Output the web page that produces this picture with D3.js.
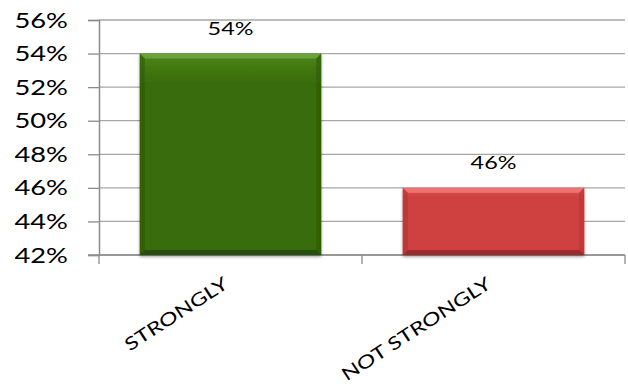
<!DOCTYPE html>
<html><head><meta charset="utf-8">
<script src="https://cdn.jsdelivr.net/npm/d3@7"></script>
<style>body{margin:0;background:#fff}svg{display:block}text{font-family:Lato,"Open Sans",sans-serif;fill:#000}</style>
</head><body>
<svg id="c" width="628" height="390"></svg>
<script>
const categories = ["STRONGLY", "NOT STRONGLY"];
const values = [0.54, 0.46];
const labels = ["54%", "46%"];
const yTicks = [0.42, 0.44, 0.46, 0.48, 0.50, 0.52, 0.54, 0.56];
const barColors = ["green", "red"];

(function () {
const svg = d3.select("#c");
const mL = 99, mR = 625, mT = 20, mB = 255;
const sx = 1.3;
const x = d3.scaleBand().domain(categories).range([mL, mR]).paddingInner(0.31).paddingOuter(0.155);
const y = d3.scaleLinear().domain([0.42, 0.56]).range([mB, mT]);

const defs = svg.append("defs");
const pal = {
  green: {main: "#386c07", light: "#6aa33a", mid: "#4c8418", dark: "#22450a", side: "#2e5a06"},
  red:   {main: "#cf3f3f", light: "#ec7372", mid: "#dc5553", dark: "#8e2525", side: "#b33434"}
};
const f = defs.append("filter").attr("id","sh").attr("x","-10%").attr("y","-10%").attr("width","120%").attr("height","130%");
f.append("feDropShadow").attr("dx",0).attr("dy",2).attr("stdDeviation",1.5).attr("flood-color","#000").attr("flood-opacity",0.35);

// gridlines
svg.append("g").selectAll("line").data(yTicks).join("line")
  .attr("x1", mL).attr("x2", mR).attr("y1", d => y(d)).attr("y2", d => y(d))
  .attr("stroke", "#a6a6a6").attr("stroke-width", 1.3);

// y axis
const yAxis = svg.append("g").attr("transform", `translate(${mL},0)`)
  .call(d3.axisLeft(y).tickValues(yTicks).tickSize(11).tickFormat(""));
yAxis.select(".domain").attr("stroke", "#8c8c8c").attr("stroke-width", 1.5);
yAxis.selectAll(".tick line").attr("stroke", "#8c8c8c").attr("stroke-width", 1.3);
svg.append("g").selectAll("text").data(yTicks).join("text")
  .attr("transform", d => `translate(68,${y(d)}) scale(${sx},1)`)
  .attr("text-anchor", "end").attr("dy", "0.36em").attr("font-size", 21)
  .text(d => Math.round(d * 100) + "%");

// x axis
const xb = svg.append("g").attr("transform", `translate(0,${mB})`);
const catBounds = [mL].concat(categories.map(c => x(c) + x.bandwidth() + x.step() * x.paddingInner() / 2));
xb.append("line").attr("x1", mL - 11).attr("x2", mR).attr("stroke", "#8c8c8c").attr("stroke-width", 1.5);
xb.selectAll("line.t").data(catBounds).join("line").attr("class","t")
  .attr("x1", d => d).attr("x2", d => d).attr("y1", 0).attr("y2", 9)
  .attr("stroke", "#8c8c8c").attr("stroke-width", 1.3);

// bars
const bars = svg.append("g").selectAll("g").data(categories).join("g").attr("filter","url(#sh)");
bars.each(function(c, i) {
  const g = d3.select(this);
  const p = pal[barColors[i]];
  const x0 = x(c), w = x.bandwidth(), y0 = y(values[i]), h = mB - y0, b = 5;
  const gid = "g" + i;
  const lg = defs.append("linearGradient").attr("id", gid).attr("x1",0).attr("y1",0).attr("x2",0).attr("y2",1);
  lg.append("stop").attr("offset", 0).attr("stop-color", p.mid);
  lg.append("stop").attr("offset", 0.15).attr("stop-color", p.main);
  lg.append("stop").attr("offset", 1).attr("stop-color", p.main);
  g.append("rect").attr("x", x0).attr("y", y0).attr("width", w).attr("height", h).attr("fill", `url(#${gid})`);
  g.append("polygon").attr("points", [[x0,y0],[x0+w,y0],[x0+w-b,y0+b],[x0+b,y0+b]].join(" ")).attr("fill", p.light);
  g.append("polygon").attr("points", [[x0,y0],[x0+b,y0+b],[x0+b,y0+h-b],[x0,y0+h]].join(" ")).attr("fill", p.side).attr("opacity",0.6);
  g.append("polygon").attr("points", [[x0+w,y0],[x0+w-b,y0+b],[x0+w-b,y0+h-b],[x0+w,y0+h]].join(" ")).attr("fill", p.side).attr("opacity",0.6);
  g.append("polygon").attr("points", [[x0,y0+h],[x0+b,y0+h-b],[x0+w-b,y0+h-b],[x0+w,y0+h]].join(" ")).attr("fill", p.dark).attr("opacity",0.75);
});

// data labels
svg.append("g").selectAll("text").data(categories).join("text")
  .attr("transform", (c, i) => `translate(${x(c) + x.bandwidth() / 2},${y(values[i]) - 19}) scale(${sx},1)`)
  .attr("text-anchor", "middle").attr("font-size", 18)
  .text((c, i) => labels[i]);

// category labels
svg.append("g").selectAll("text").data(categories).join("text")
  .attr("transform", c => `translate(${x(c) + x.bandwidth() / 2 - 8},${mB + 21}) rotate(-33) scale(1.3,1)`)
  .attr("text-anchor", "end").attr("dy", "0.72em").attr("font-size", 18)
  .text(c => c);
})();
</script>
</body></html>
